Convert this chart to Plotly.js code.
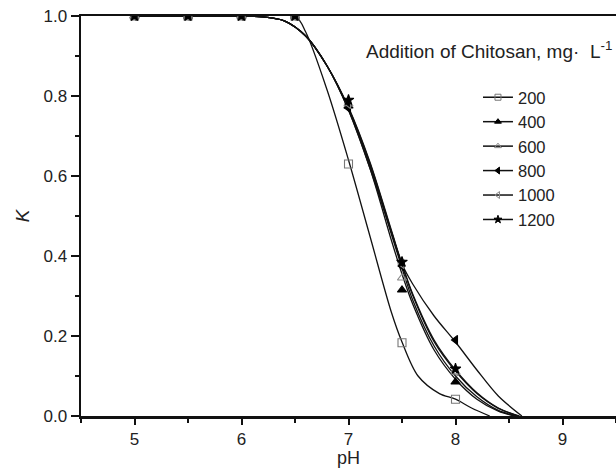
<!DOCTYPE html>
<html><head><meta charset="utf-8">
<script src="https://cdn.plot.ly/plotly-3.0.1.min.js"></script>
<style>html,body{margin:0;padding:0;background:#fff}#chart{width:616px;height:468px}</style>
</head><body><div id="chart"></div>
<script>
// measured points
var pH = [5, 5.5, 6, 6.5, 7, 7.5, 8];
var series = ['200', '400', '600', '800', '1000', '1200'];
var k200  = [1, 1, 1, 1, 0.63, 0.183, 0.042];
var k400  = [1, 1, 1, 1, 0.775, 0.315, 0.085];
var k600  = [1, 1, 1, 1, 0.78, 0.345, 0.11];
var k800  = [1, 1, 1, 1, 0.77, 0.375, 0.19];
var k1000 = [1, 1, 1, 1, 0.78, 0.38, 0.112];
var k1200 = [1, 1, 1, 1, 0.79, 0.385, 0.118];

// fitted curves
var fit200x  = [5, 5.5, 6, 6.5, 6.6, 6.8, 7.0, 7.2, 7.4, 7.5, 7.65, 7.85, 8.0, 8.15, 8.32];
var fit200y  = [1, 1, 1, 1, 0.96, 0.815, 0.64, 0.45, 0.26, 0.185, 0.10, 0.056, 0.042, 0.02, 0];
var fitGx    = [5, 6, 6.2, 6.4, 6.6, 6.8, 7.0, 7.2, 7.4, 7.5, 7.6, 7.8, 8.0, 8.2, 8.4];
var fit400y  = [1, 1, 0.998, 0.988, 0.95, 0.875, 0.765, 0.62, 0.44, 0.355, 0.28, 0.165, 0.092, 0.042, 0.012];
var fit600y  = [1, 1, 0.998, 0.988, 0.95, 0.875, 0.768, 0.627, 0.455, 0.37, 0.29, 0.175, 0.10, 0.048, 0.014];
var fit800y  = [1, 1, 0.998, 0.988, 0.95, 0.875, 0.765, 0.62, 0.46, 0.38, 0.33, 0.25, 0.185, 0.115, 0.05];
var fit1000y = [1, 1, 0.998, 0.988, 0.95, 0.875, 0.77, 0.632, 0.462, 0.378, 0.302, 0.186, 0.112, 0.056, 0.019];
var fit1200y = [1, 1, 0.998, 0.988, 0.95, 0.875, 0.772, 0.635, 0.465, 0.38, 0.305, 0.19, 0.115, 0.058, 0.02];
var fitEnd   = [8.55, 8.57, 8.62, 8.59, 8.6];

var symbols = ['square-open', 'triangle-up', 'triangle-up-open', 'triangle-left', 'triangle-left-open', 'star'];
var mcolors = ['#777', '#000', '#888', '#000', '#888', '#000'];
var msizes  = [8, 8, 8, 8, 8, 8];

var kAll = [k200, k400, k600, k800, k1000, k1200];
var fitYs = [fit400y, fit600y, fit800y, fit1000y, fit1200y];

var traces = [];
var lineStyle = {color: '#111', width: 1.3, shape: 'spline', smoothing: 0.9};
traces.push({x: fit200x, y: fit200y, mode: 'lines', line: lineStyle, showlegend: false, hoverinfo: 'skip'});
for (var i = 0; i < fitYs.length; i++) {
  traces.push({x: fitGx.concat([fitEnd[i]]), y: fitYs[i].concat([0]), mode: 'lines', line: lineStyle, showlegend: false, hoverinfo: 'skip'});
}
for (var j = 0; j < series.length; j++) {
  traces.push({x: pH, y: kAll[j], mode: 'markers', showlegend: false, cliponaxis: true,
    marker: {symbol: symbols[j], size: msizes[j], color: mcolors[j], line: {color: mcolors[j], width: 1.1}}});
}
for (var j2 = 0; j2 < series.length; j2++) {
  traces.push({x: [null], y: [null], mode: 'lines+markers', name: series[j2],
    line: {color: '#111', width: 1.5},
    marker: {symbol: symbols[j2], size: 6, color: mcolors[j2], line: {color: mcolors[j2], width: 1}}});
}

var fam = 'Liberation Sans, Arial, sans-serif';
var layout = {
  width: 616, height: 468,
  margin: {l: 81, r: 0, t: 16, b: 52},
  paper_bgcolor: '#fff', plot_bgcolor: '#fff',
  font: {family: fam, size: 18, color: '#222'},
  showlegend: true,
  legend: {x: 0.742, y: 0.84, xanchor: 'left', yanchor: 'top', bgcolor: 'rgba(0,0,0,0)',
    font: {family: fam, size: 16.5, color: '#222'}, tracegroupgap: 0},
  xaxis: {range: [4.5, 9.5], showgrid: false, zeroline: false, showline: true, linewidth: 2.5, linecolor: '#111',
    mirror: true, ticks: 'outside', ticklen: 6, tickwidth: 2, tickcolor: '#111', dtick: 1, tick0: 5,
    minor: {dtick: 0.5, ticks: 'outside', ticklen: 4, tickwidth: 2, tickcolor: '#111'},
    tickfont: {family: fam, size: 17, color: '#222'},
    title: {text: 'pH', font: {family: fam, size: 18, color: '#222'}, standoff: 0}},
  yaxis: {range: [0, 1], showgrid: false, zeroline: false, showline: true, linewidth: 2.5, linecolor: '#111',
    ticks: 'outside', ticklen: 8, tickwidth: 2, tickcolor: '#111', dtick: 0.2, tickformat: '.1f',
    minor: {dtick: 0.1, ticks: 'outside', ticklen: 4, tickwidth: 2, tickcolor: '#111'},
    tickfont: {family: fam, size: 17, color: '#222'},
    title: {text: '<i>K</i>', font: {family: fam, size: 19, color: '#222'}, standoff: 9}},
  annotations: [{xref: 'paper', yref: 'paper', x: 0.996, y: 0.915, xanchor: 'right', yanchor: 'middle', showarrow: false,
    text: 'Addition of Chitosan, mg·  L<sup>-1</sup>', font: {family: fam, size: 19, color: '#222'}}]
};
Plotly.newPlot('chart', traces, layout, {displayModeBar: false, staticPlot: true});
</script></body></html>
